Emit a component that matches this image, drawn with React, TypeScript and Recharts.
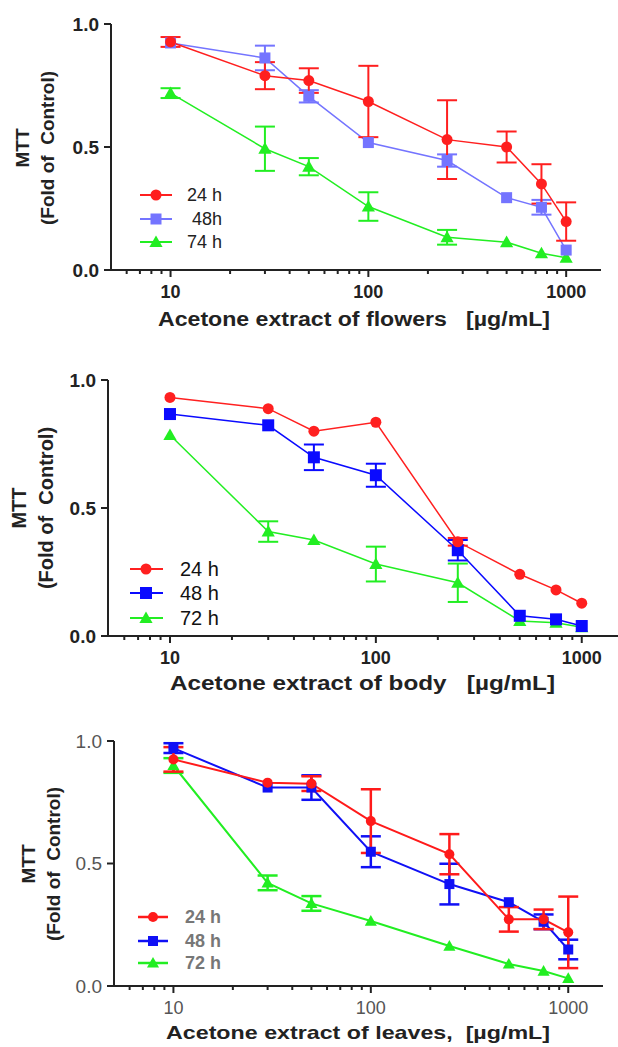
import React from 'react';
import { LineChart, Line, XAxis, YAxis, ErrorBar, Legend } from 'recharts';

// ---------- shared axis values ----------
const doses = [10, 30, 50, 100, 250, 500, 750, 1000];
const xMajorTicks = [10, 100, 1000];
const xMinorTicks = [6, 7, 8, 9, 20, 30, 40, 50, 60, 70, 80, 90, 200, 300, 400, 500, 600, 700, 800, 900];
const xAllTicks = [...xMinorTicks, ...xMajorTicks].sort((a, b) => a - b);
const yTicks = [0, 0.5, 1];

// null = error bar hidden behind the symbol
// ---------- panel 1 : flowers ----------
const flowers24 = [0.927, 0.79, 0.77, 0.685, 0.53, 0.5, 0.35, 0.197];
const flowers24Err = [0.02, 0.055, 0.05, 0.145, 0.16, 0.063, 0.08, 0.078];
const flowers48 = [0.923, 0.862, 0.706, 0.518, 0.445, 0.294, 0.255, 0.081];
const flowers48Err = [null, 0.05, 0.025, null, 0.025, null, 0.03, null];
const flowers74 = [0.719, 0.493, 0.42, 0.258, 0.133, 0.113, 0.068, 0.05];
const flowers74Err = [0.02, 0.09, 0.035, 0.058, 0.03, null, null, null];

// ---------- panel 2 : body ----------
const body24 = [0.932, 0.888, 0.8, 0.835, 0.368, 0.241, 0.18, 0.128];
const body24Err = [null, null, null, null, 0.015, null, null, null];
const body48 = [0.867, 0.823, 0.698, 0.628, 0.335, 0.079, 0.065, 0.039];
const body48Err = [null, null, 0.05, 0.045, 0.04, null, null, null];
const body72 = [0.785, 0.408, 0.375, 0.281, 0.208, 0.059, 0.052, 0.034];
const body72Err = [null, 0.04, null, 0.068, 0.075, null, null, null];

// ---------- panel 3 : leaves ----------
const leaves24 = [0.925, 0.83, 0.826, 0.673, 0.538, 0.272, 0.272, 0.219];
const leaves24Err = [0.05, null, 0.03, 0.13, 0.082, 0.05, 0.04, 0.146];
const leaves48 = [0.971, 0.81, 0.81, 0.548, 0.416, 0.342, 0.262, 0.149];
const leaves48Err = [0.02, null, 0.05, 0.063, 0.083, null, 0.03, 0.04];
const leaves72 = [0.9, 0.421, 0.337, 0.265, 0.163, 0.09, 0.061, 0.031];
const leaves72Err = [0.03, 0.03, 0.03, null, null, null, null, null];

const legend1 = ['24 h', ' 48h', '74 h'];
const legend2 = ['24 h', '48 h', '72 h'];
const legend3 = ['24 h', '48 h', '72 h'];

type N = number | null;
const buildRows = (a: number[], ae: N[], b: number[], be: N[], c: number[], ce: N[]) =>
  doses.map((d, i) => ({ dose: d, s1: a[i], e1: ae[i], s2: b[i], e2: be[i], s3: c[i], e3: ce[i] }));

type Shape = 'circle' | 'square' | 'triangle';

function Marker({ cx, cy, shape, color, size }: { cx: number; cy: number; shape: Shape; color: string; size: number }) {
  if (cx == null || cy == null || isNaN(cx) || isNaN(cy)) return null;
  if (shape === 'circle') return <circle cx={cx} cy={cy} r={size / 2} fill={color} />;
  if (shape === 'square')
    return <rect x={cx - size / 2} y={cy - size / 2} width={size} height={size} fill={color} />;
  const h = size;
  return (
    <polygon
      points={`${cx},${cy - h * 0.55} ${cx + h * 0.55},${cy + h * 0.42} ${cx - h * 0.55},${cy + h * 0.42}`}
      fill={color}
    />
  );
}

const AXIS = '#222';

type Cfg = {
  top: number;
  height: number;
  margin: { top: number; right: number; left: number; bottom: number };
  yAxisWidth: number;
  rows: any[];
  colors: string[];
  labels: string[];
  lineWidth: number;
  errWidth: number;
  capWidth: number;
  sizes: number[];
  tickFont: number;
  yTickFont: number;
  tickWeight: number;
  tickColor: string;
  legendLeft: number;
  legendTop: number;
  legendRows: number[];
  legendLine: [number, number];
  legendMarker: number;
  legendText: number;
  legendFont: number;
  legendWeight: number;
  legendColor: string;
};

const shapes: Shape[] = ['circle', 'square', 'triangle'];

const panels: Cfg[] = [
  {
    top: 0,
    height: 340,
    margin: { top: 24, right: 17, left: 0, bottom: 40 },
    yAxisWidth: 111,
    rows: buildRows(flowers24, flowers24Err, flowers48, flowers48Err, flowers74, flowers74Err),
    colors: ['#FF1F1F', '#7474FF', '#22EE22'],
    labels: legend1,
    lineWidth: 1.5,
    errWidth: 2,
    capWidth: 10,
    sizes: [11, 11, 12],
    tickFont: 18,
    yTickFont: 19,
    tickWeight: 700,
    tickColor: '#222',
    legendLeft: 135,
    legendTop: 183,
    legendRows: [12, 36, 59],
    legendLine: [5, 37],
    legendMarker: 21,
    legendText: 52,
    legendFont: 18,
    legendWeight: 400,
    legendColor: '#222',
  },
  {
    top: 340,
    height: 366,
    margin: { top: 40, right: 0, left: 0, bottom: 40 },
    yAxisWidth: 108,
    rows: buildRows(body24, body24Err, body48, body48Err, body72, body72Err),
    colors: ['#FF2020', '#0A0AFF', '#22EE22'],
    labels: legend2,
    lineWidth: 1.5,
    errWidth: 2,
    capWidth: 10,
    sizes: [11, 12, 12],
    tickFont: 18,
    yTickFont: 19,
    tickWeight: 700,
    tickColor: '#222',
    legendLeft: 125,
    legendTop: 215,
    legendRows: [14, 38, 63],
    legendLine: [5, 38],
    legendMarker: 21,
    legendText: 55,
    legendFont: 20,
    legendWeight: 400,
    legendColor: '#111',
  },
  {
    top: 700,
    height: 347,
    margin: { top: 41, right: 15, left: 0, bottom: 31 },
    yAxisWidth: 114,
    rows: buildRows(leaves24, leaves24Err, leaves48, leaves48Err, leaves72, leaves72Err),
    colors: ['#FF1A1A', '#1010F5', '#22EE22'],
    labels: legend3,
    lineWidth: 2,
    errWidth: 2.5,
    capWidth: 10,
    sizes: [10, 10, 11],
    tickFont: 18,
    yTickFont: 19,
    tickWeight: 400,
    tickColor: '#555',
    legendLeft: 130,
    legendTop: 205,
    legendRows: [12, 36, 58],
    legendLine: [8, 38],
    legendMarker: 23,
    legendText: 55,
    legendFont: 18,
    legendWeight: 700,
    legendColor: '#777',
  },
];

function XTick(props: any) {
  const { x, y, payload, cfg } = props;
  const v = payload.value;
  const major = xMajorTicks.includes(v);
  return (
    <g>
      <line x1={x} x2={x} y1={y} y2={y + (major ? 7 : 4)} stroke={AXIS} strokeWidth={2} />
      {major ? (
        <text
          x={x}
          y={y + 28}
          textAnchor="middle"
          fontSize={cfg.tickFont}
          fontWeight={cfg.tickWeight}
          fill={cfg.tickColor}
        >
          {v}
        </text>
      ) : null}
    </g>
  );
}

function LegendBox({ cfg }: { cfg: Cfg }) {
  return (
    <svg width={110} height={80} style={{ display: 'block', overflow: 'visible' }}>
      {cfg.labels.map((lab, i) => (
        <g key={lab}>
          <line
            x1={cfg.legendLine[0]}
            x2={cfg.legendLine[1]}
            y1={cfg.legendRows[i]}
            y2={cfg.legendRows[i]}
            stroke={cfg.colors[i]}
            strokeWidth={cfg.lineWidth + 0.5}
          />
          <Marker cx={cfg.legendMarker} cy={cfg.legendRows[i]} shape={shapes[i]} color={cfg.colors[i]} size={cfg.sizes[i]} />
          <text
            x={cfg.legendText}
            y={cfg.legendRows[i]}
            dominantBaseline="central"
            fontSize={cfg.legendFont}
            fontWeight={cfg.legendWeight}
            fill={cfg.legendColor}
            style={{ whiteSpace: 'pre' }}
          >
            {lab}
          </text>
        </g>
      ))}
    </svg>
  );
}

function Panel({ cfg }: { cfg: Cfg }) {
  const order = [2, 1, 0];
  return (
    <div style={{ position: 'absolute', left: 0, top: cfg.top }}>
      <LineChart width={618} height={cfg.height} data={cfg.rows} margin={cfg.margin}>
        <XAxis
          dataKey="dose"
          type="number"
          scale="log"
          domain={[5, 1500]}
          allowDataOverflow
          ticks={xAllTicks}
          interval={0}
          tickSize={0}
          tickMargin={0}
          tickLine={false}
          axisLine={{ stroke: AXIS, strokeWidth: 2 }}
          tick={(p: any) => <XTick {...p} cfg={cfg} />}
          height={30}
        />
        <YAxis
          type="number"
          domain={[0, 1]}
          allowDataOverflow
          ticks={yTicks}
          width={cfg.yAxisWidth}
          tickSize={7}
          tickMargin={5}
          tickFormatter={(v: number) => v.toFixed(1)}
          axisLine={{ stroke: AXIS, strokeWidth: 2 }}
          tickLine={{ stroke: AXIS, strokeWidth: 2 }}
          tick={{ fontSize: cfg.yTickFont, fontWeight: cfg.tickWeight, fill: cfg.tickColor }}
        />
        {order.map((k) => (
          <Line
            key={k}
            type="linear"
            dataKey={`s${k + 1}`}
            stroke={cfg.colors[k]}
            strokeWidth={cfg.lineWidth}
            isAnimationActive={false}
            activeDot={false}
            dot={(p: any) => (
              <Marker key={`d${k}-${p.index}`} cx={p.cx} cy={p.cy} shape={shapes[k]} color={cfg.colors[k]} size={cfg.sizes[k]} />
            )}
          >
            <ErrorBar
              dataKey={`e${k + 1}`}
              direction="y"
              width={cfg.capWidth}
              stroke={cfg.colors[k]}
              strokeWidth={cfg.errWidth}
              isAnimationActive={false}
            />
          </Line>
        ))}
        <Legend
          layout="vertical"
          align="center"
          verticalAlign="middle"
          content={() => <LegendBox cfg={cfg} />}
          wrapperStyle={{ position: 'absolute', left: cfg.legendLeft, top: cfg.legendTop, width: 110, height: 80 }}
        />
      </LineChart>
    </div>
  );
}

const titleStyle: React.CSSProperties = { whiteSpace: 'pre' };

export default function App() {
  return (
    <div
      style={{
        position: 'absolute',
        left: 0,
        top: 0,
        width: 618,
        height: 1047,
        background: '#fff',
        fontFamily: "'Liberation Sans', Arial, Helvetica, sans-serif",
      }}
    >
      {panels.map((p, i) => (
        <Panel key={i} cfg={p} />
      ))}
      <svg
        width={618}
        height={1047}
        style={{ position: 'absolute', left: 0, top: 0, pointerEvents: 'none' }}
      >
        {/* panel 1 titles */}
        <text transform="translate(22,148) rotate(-90)" textAnchor="middle" dominantBaseline="central" fontSize={19} fontWeight={700} fill="#222">MTT</text>
        <text transform="translate(47,148) rotate(-90)" textAnchor="middle" dominantBaseline="central" fontSize={19} fontWeight={700} fill="#222" style={titleStyle}>(Fold of  Control)</text>
        <text x={158} y={326} textLength={392} lengthAdjust="spacingAndGlyphs" fontSize={20} fontWeight={700} fill="#222" style={titleStyle}>Acetone extract of flowers   [µg/mL]</text>

        {/* panel 2 titles */}
        <text transform="translate(19,508) rotate(-90)" textAnchor="middle" dominantBaseline="central" fontSize={20} fontWeight={700} fill="#222">MTT</text>
        <text transform="translate(46,508) rotate(-90)" textAnchor="middle" dominantBaseline="central" fontSize={20} fontWeight={700} fill="#222" style={titleStyle}>(Fold of  Control)</text>
        <text x={170} y={690} textLength={385} lengthAdjust="spacingAndGlyphs" fontSize={20} fontWeight={700} fill="#222" style={titleStyle}>Acetone extract of body   [µg/mL]</text>

        {/* panel 3 titles */}
        <text transform="translate(28,864) rotate(-90)" textAnchor="middle" dominantBaseline="central" fontSize={19} fontWeight={700} fill="#222">MTT</text>
        <text transform="translate(53,864) rotate(-90)" textAnchor="middle" dominantBaseline="central" fontSize={19} fontWeight={700} fill="#222" style={titleStyle}>(Fold of  Control)</text>
        <text x={166} y={1039} textLength={384} lengthAdjust="spacingAndGlyphs" fontSize={19} fontWeight={700} fill="#222" style={titleStyle}>Acetone extract of leaves,  [µg/mL]</text>
      </svg>
    </div>
  );
}
